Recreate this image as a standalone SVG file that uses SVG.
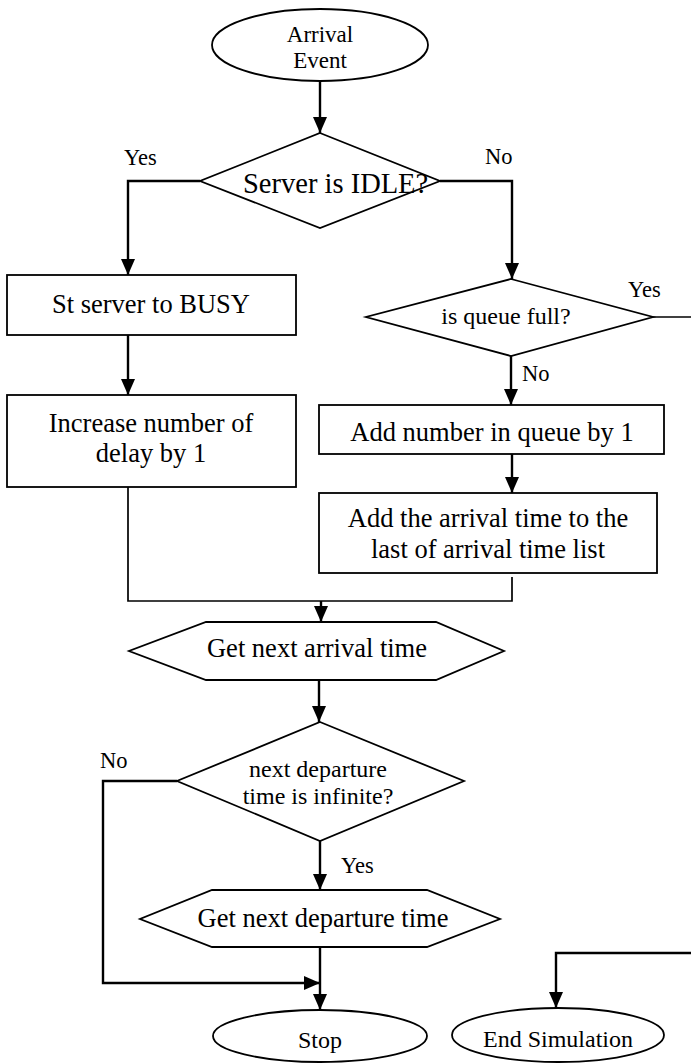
<svg xmlns="http://www.w3.org/2000/svg" width="691" height="1064" viewBox="0 0 691 1064">
  <style>
    .shape { fill: #ffffff; stroke: #000000; stroke-width: 1.8; }
    .flow { fill: none; stroke: #000000; stroke-width: 2.4; }
    .wire { fill: none; stroke: #000000; stroke-width: 1.7; }
    text { font-family: "Liberation Serif", "Times New Roman", serif; fill: #000000; }
    .t { font-size: 26.5px; text-anchor: middle; }
    .s { font-size: 24px; text-anchor: middle; }
    .lbl { font-size: 22.5px; }
  </style>
  <defs>
    <marker id="ah" viewBox="0 0 16 14" refX="16" refY="7" markerWidth="16" markerHeight="14" markerUnits="userSpaceOnUse" orient="auto">
      <path d="M0,0 L16,7 L0,14 z" fill="#000000"/>
    </marker>
  </defs>

  <!-- connectors -->
  <g id="connectors">
    <path class="flow" d="M320,82 V133" marker-end="url(#ah)"/>
    <path class="flow" d="M200,181 H128 V275" marker-end="url(#ah)"/>
    <path class="flow" d="M440,181 H512 V279" marker-end="url(#ah)"/>
    <path class="flow" d="M128,335 V395" marker-end="url(#ah)"/>
    <path class="wire" d="M653,317 H691"/>
    <path class="flow" d="M511,356 V405" marker-end="url(#ah)"/>
    <path class="flow" d="M512,454 V493" marker-end="url(#ah)"/>
    <path class="wire" d="M128,487 V601 H512 V577"/>
    <path class="flow" d="M321,601 V622" marker-end="url(#ah)"/>
    <path class="flow" d="M319,680 V722" marker-end="url(#ah)"/>
    <path class="flow" d="M177,781 H103 V983 H320" marker-end="url(#ah)"/>
    <path class="flow" d="M320,841 V890" marker-end="url(#ah)"/>
    <path class="flow" d="M320,947 V1010" marker-end="url(#ah)"/>
    <path class="flow" d="M691,953 H556 V1008" marker-end="url(#ah)"/>
    <text class="lbl" x="124" y="165">Yes</text>
    <text class="lbl" x="485" y="164">No</text>
    <text class="lbl" x="628" y="297">Yes</text>
    <text class="lbl" x="522" y="381">No</text>
    <text class="lbl" x="100" y="768">No</text>
    <text class="lbl" x="341" y="873">Yes</text>
  </g>

  <g id="arrival-event">
    <ellipse class="shape" cx="320" cy="45" rx="108" ry="36"/>
    <text class="s" x="320" y="42" style="font-size:23px">Arrival</text>
    <text class="s" x="320" y="68" style="font-size:23px">Event</text>
  </g>

  <g id="server-idle">
    <polygon class="shape" points="320,133 440,181 320,228 200,181"/>
    <text x="243" y="193" style="font-size:28.5px">Server is IDLE?</text>
  </g>

  <g id="set-busy">
    <rect class="shape" x="7" y="275" width="289" height="60"/>
    <text class="t" x="151" y="313">St server to BUSY</text>
  </g>

  <g id="increase-delay">
    <rect class="shape" x="7" y="395" width="289" height="92"/>
    <text class="t" x="151" y="432">Increase number of</text>
    <text class="t" x="151" y="462">delay by 1</text>
  </g>

  <g id="queue-full">
    <polygon class="shape" points="511,279 653,317 511,356 366,317"/>
    <text class="s" x="506" y="324">is queue full?</text>
  </g>

  <g id="add-queue">
    <rect class="shape" x="319" y="405" width="345" height="49"/>
    <text class="t" x="492" y="441">Add number in queue by 1</text>
  </g>

  <g id="add-arrival-time">
    <rect class="shape" x="319" y="493" width="338" height="80"/>
    <text class="t" x="488" y="527">Add the arrival time to the</text>
    <text class="t" x="488" y="558">last of arrival time list</text>
  </g>

  <g id="next-arrival">
    <polygon class="shape" points="206,622 436,622 504,651 436,680 206,680 129,651"/>
    <text class="t" x="317" y="657">Get next arrival time</text>
  </g>

  <g id="departure-infinite">
    <polygon class="shape" points="320,722 464,781 320,841 177,781"/>
    <text class="s" x="318" y="777">next departure</text>
    <text class="s" x="318" y="804">time is infinite?</text>
  </g>

  <g id="next-departure">
    <polygon class="shape" points="212,890 427,890 500,919 427,947 212,947 140,919"/>
    <text class="t" x="323" y="927">Get next departure time</text>
  </g>

  <g id="stop">
    <ellipse class="shape" cx="320" cy="1036" rx="107" ry="26"/>
    <text class="s" x="320" y="1048">Stop</text>
  </g>

  <g id="end-simulation">
    <ellipse class="shape" cx="558" cy="1035" rx="106" ry="27"/>
    <text class="s" x="558" y="1047">End Simulation</text>
  </g>
</svg>
